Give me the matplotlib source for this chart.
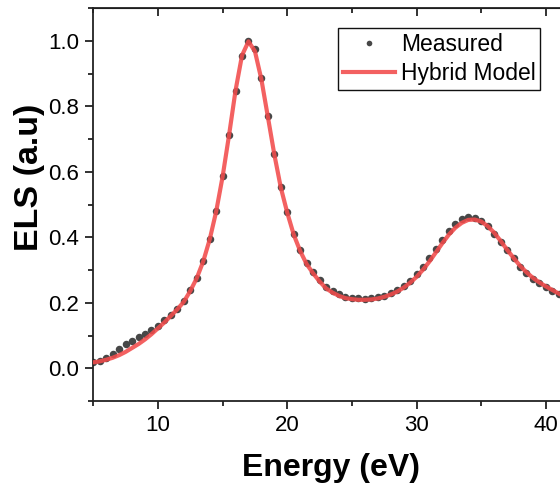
import numpy as np
import matplotlib
matplotlib.use('Agg')
from matplotlib import pyplot as plt

# energy grid of the loss spectrum (eV)
energy = np.arange(5.0, 41.51, 0.5)

# measured energy loss spectrum, normalised
measured = [0.020, 0.022, 0.032, 0.045, 0.059, 0.073, 0.084, 0.095, 0.104, 0.116,
            0.130, 0.146, 0.164, 0.182, 0.205, 0.238, 0.276, 0.328, 0.395, 0.479,
            0.587, 0.712, 0.847, 0.953, 1.000, 0.974, 0.885, 0.770, 0.655, 0.553,
            0.478, 0.411, 0.361, 0.321, 0.295,
            0.270, 0.248, 0.237, 0.226, 0.219, 0.215, 0.215, 0.212, 0.215, 0.219,
            0.222, 0.230, 0.240, 0.250, 0.265, 0.287, 0.309, 0.337, 0.363, 0.391, 0.418,
            0.440, 0.456, 0.463, 0.460, 0.450, 0.434, 0.411, 0.387,
            0.361, 0.336, 0.310, 0.290, 0.273, 0.259, 0.248, 0.237, 0.226, 0.216]

# hybrid model curve on the same grid
model = [0.018, 0.021, 0.026, 0.032, 0.040, 0.050, 0.062, 0.074, 0.088, 0.104,
         0.122, 0.140, 0.160, 0.180, 0.203, 0.236, 0.275, 0.326, 0.393, 0.478,
         0.585, 0.712, 0.848, 0.955, 0.998, 0.968, 0.882, 0.768, 0.653, 0.552,
         0.475, 0.408, 0.358, 0.318, 0.290,
         0.265, 0.244, 0.231, 0.221, 0.214, 0.211, 0.209, 0.209, 0.210, 0.213,
         0.218, 0.225, 0.234, 0.246, 0.261, 0.279, 0.301, 0.326, 0.354, 0.382, 0.408,
         0.429, 0.444, 0.453, 0.454, 0.448, 0.434, 0.414, 0.389,
         0.362, 0.337, 0.313, 0.293, 0.276, 0.262, 0.250, 0.239, 0.228, 0.218]

x_major = [10, 20, 30, 40]
x_minor = [5, 15, 25, 35, 45]
y_major = [0.0, 0.2, 0.4, 0.6, 0.8, 1.0]
y_minor = [-0.1, 0.1, 0.3, 0.5, 0.7, 0.9, 1.1]

plt.rcParams['font.family'] = ['Liberation Sans', 'DejaVu Sans']

W, H = 560, 490
fig = plt.figure(figsize=(W / 100, H / 100), dpi=100)
# axes runs past the right edge of the figure
ax = fig.add_axes([93.3 / W, (H - 401) / H, 517.2 / W, 393 / H])

ax.plot(energy, measured, 'o', color='#474747', markersize=5.4,
        markeredgewidth=0, label='Measured', zorder=2)
ax.plot(energy, model, '-', color='#f24b4b', alpha=0.88, linewidth=3.0,
        label='Hybrid Model', zorder=3)

ax.set_xlim(5, 45)
ax.set_ylim(-0.1, 1.1)
ax.set_xticks(x_major)
ax.set_xticks(x_minor, minor=True)
ax.set_yticks(y_major)
ax.set_yticks(y_minor, minor=True)
ax.set_yticklabels(['{:.1f}'.format(v) for v in y_major])

for side in ['left', 'bottom', 'top', 'right']:
    ax.spines[side].set_linewidth(1.3)
    ax.spines[side].set_color('#222222')
ax.tick_params(which='major', length=6, width=1.3, labelsize=16, pad=4, color='#222222')
ax.tick_params(which='minor', length=3.5, width=1.3, color='#222222')

# ticks on the top edge point inwards
top = ax.secondary_xaxis('top')
top.set_xticks(x_major)
top.set_xticks(x_minor, minor=True)
top.tick_params(which='both', direction='in', labeltop=False, width=1.3, color='#222222')
top.tick_params(which='major', length=6)
top.tick_params(which='minor', length=3.5)

fig.text(331 / W, 1 - 476 / H, 'Energy (eV)', fontsize=23, fontweight='bold',
         ha='center', va='baseline')
fig.text(30 / W, 1 - 177 / H, 'ELS (a.u)', fontsize=24.5, fontweight='bold',
         rotation=90, ha='center', va='center')

leg = ax.legend(loc='upper left', bbox_to_anchor=((338 - 93.3) / 517.2, (401 - 28) / 393),
                fontsize=16.5, frameon=True, fancybox=False, framealpha=1,
                edgecolor='#111111', handlelength=2.3, handletextpad=0.25,
                borderpad=0.2, labelspacing=0.28, borderaxespad=0,
                markerscale=0.75)
leg.get_frame().set_linewidth(1.0)

plt.savefig('out.png', dpi=100)
